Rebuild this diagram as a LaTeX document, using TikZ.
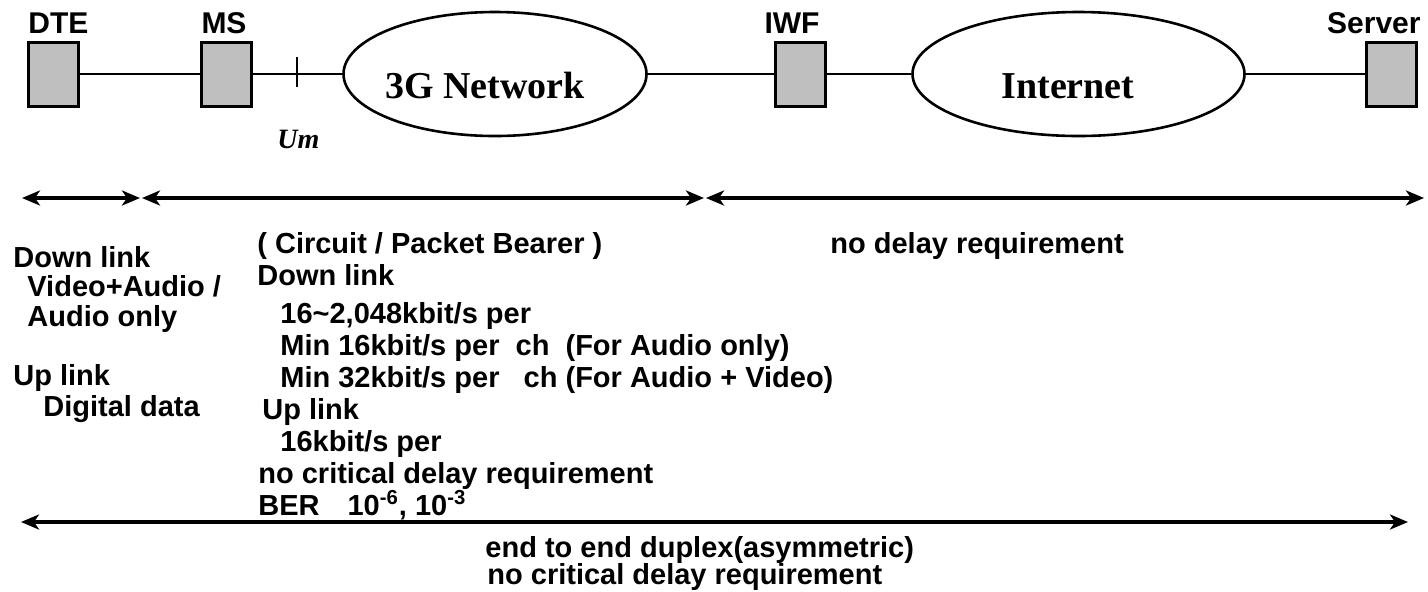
\documentclass[tikz,border=0pt]{standalone}
\usepackage{fontspec}
\setmainfont{Liberation Sans}
\newfontfamily\timesfont{Liberation Serif}
\usetikzlibrary{arrows.meta}
\usetikzlibrary{shapes.geometric}
\tikzset{
  every node/.style = {font = \fontsize{14.5}{16}\selectfont\bfseries, inner sep=0pt}
}
\tikzset{
    >={Stealth[length=9pt,width=7.5pt,inset=2.5pt]}
}
\tikzset{
  unitbox/.style = {draw, line width=1.5pt, fill=black!25,
    minimum width=25pt, minimum height=32pt},
  netcloud/.style = {draw, ellipse, line width=1.3pt},
  nettxt/.style = {font=\timesfont\fontsize{19}{20}\selectfont\bfseries},
  unitlbl/.style = {font=\fontsize{15}{16}\selectfont\bfseries},
  txt/.style = {anchor=base west},
  link/.style = {line width=1pt},
  spanarrow/.style = {<->, line width=2pt}
}

\begin{document}
\begin{tikzpicture}[x=0.5pt,y=-0.5pt]
\fill[white] (0,0) rectangle (1428,591);
\useasboundingbox (0,0) rectangle (1428,591);

% units and networks
\node[unitbox] (dte) at (53.5,74) {};
\node[unitbox] (ms) at (226,74) {};
\node[netcloud, minimum width=151.5pt, minimum height=62pt] (n3g) at (495,74) {};
\node[unitbox] (iwf) at (800,74) {};
\node[netcloud, minimum width=166pt, minimum height=62pt] (inet) at (1078.5,74) {};
\node[unitbox] (srv) at (1391,74) {};

\node[unitlbl, anchor=base west] (ldte) at (28,33) {DTE};
\node[unitlbl, anchor=base] (lms) at (224,33) {MS};
\node[unitlbl, anchor=base] (liwf) at (792,33) {IWF};
\node[unitlbl, anchor=base east] (lsrv) at (1421,33) {Server};
\node[nettxt, anchor=base] (t3g) at (485,98) {3G Network};
\node[nettxt, anchor=base] (tinet) at (1068,98) {Internet};

\draw[link] (dte) -- (ms);
\draw[link] (ms) -- (n3g);
\draw[link] (n3g) -- (iwf);
\draw[link] (iwf) -- (inet);
\draw[link] (inet) -- (srv);

% Um reference point
\coordinate (um1) at (297,57);
\coordinate (um2) at (297,87);
\draw[line width=1pt] (um1) -- (um2);
\node[anchor=base west, font=\timesfont\fontsize{14}{15}\selectfont\bfseries\itshape] (lum) at (277,148) {Um};

% spans
\coordinate (a0) at (22,198);
\coordinate (a1) at (140,198);
\coordinate (a2) at (142,198);
\coordinate (a3) at (704,198);
\coordinate (a4) at (706,198);
\coordinate (a5) at (1424,198);
\coordinate (b0) at (21,522);
\coordinate (b1) at (1408,522);
\draw[spanarrow] (a0) -- (a1);
\draw[spanarrow] (a2) -- (a3);
\draw[spanarrow] (a4) -- (a5);
\draw[spanarrow] (b0) -- (b1);

% requirements
\foreach \x/\y/\t [count=\i] in {
  13/267/{Down link},
  27/296/{Video+Audio /},
  27/326/{Audio only},
  13/385/{Up link},
  43/416/{Digital data},
  257/253/{( Circuit / Packet Bearer )},
  257/285/{Down link},
  280/323/{16\textasciitilde 2,048kbit/s per},
  280/355/{Min 16kbit/s per\ \ ch\ \ (For Audio only)},
  280/387/{Min 32kbit/s per\ \ \ ch (For Audio + Video)},
  262/419/{Up link},
  280/451/{16kbit/s per},
  258/483/{no critical delay requirement},
  258/515/{BER\hspace{14pt}10\textsuperscript{-6}, 10\textsuperscript{-3}},
  830/253/{no delay requirement},
  485/557/{end to end duplex(asymmetric)},
  487/584/{no critical delay requirement}}
  \node[txt] (req\i) at (\x,\y) {\t};
\end{tikzpicture}
\end{document}
